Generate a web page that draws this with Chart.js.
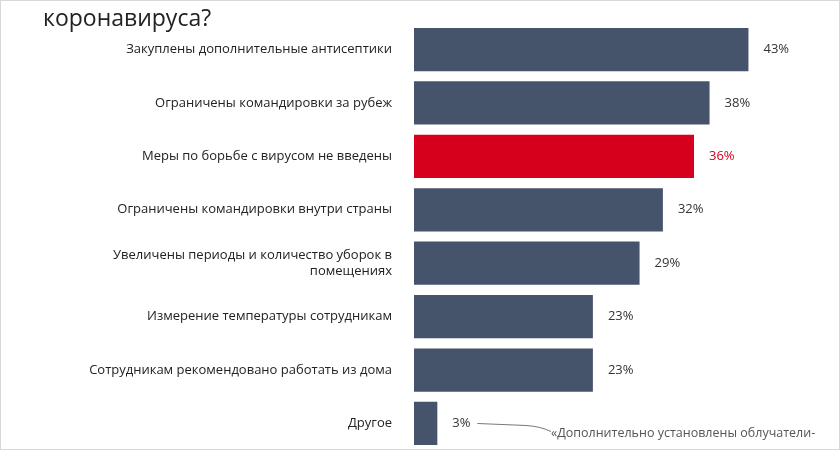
<!DOCTYPE html>
<html><head><meta charset="utf-8">
<script src="https://cdn.jsdelivr.net/npm/chart.js"></script>
<style>
html,body{margin:0;padding:0;background:#fff;overflow:hidden}
#wrap{position:relative;width:840px;height:450px;overflow:hidden;box-sizing:border-box;border:1px solid #d8d8d8}
#c{position:absolute;left:0;top:0}
</style></head><body>
<div id="wrap"><canvas id="c" width="840" height="471"></canvas></div>
<script>
const categories = [
  "Закуплены дополнительные антисептики",
  "Ограничены командировки за рубеж",
  "Меры по борьбе с вирусом не введены",
  "Ограничены командировки внутри страны",
  ["Увеличены периоды и количество уборок в", "помещениях"],
  "Измерение температуры сотрудникам",
  "Сотрудникам рекомендовано работать из дома",
  "Другое"
];
const values = [43, 38, 36, 32, 29, 23, 23, 3];
const highlightIndex = 2;
const titleText = "коронавируса?";
const noteText = "«Дополнительно установлены облучатели-";

const FONT = "'Open Sans', 'Noto Sans', sans-serif";
const barColor = "#45536b", red = "#d6001c";

const extras = {
  id: 'extras',
  afterDatasetsDraw(chart) {
    const ctx = chart.ctx, meta = chart.getDatasetMeta(0);
    ctx.save();
    ctx.font = "13px " + FONT;
    ctx.textBaseline = "middle";
    meta.data.forEach((b, i) => {
      ctx.fillStyle = i === highlightIndex ? red : "#333";
      ctx.textAlign = "left";
      ctx.fillText(values[i] + "%", b.x + 15, b.y);
    });
    ctx.fillStyle = "#222";
    ctx.font = "23px " + FONT;
    ctx.textBaseline = "alphabetic";
    ctx.fillText(titleText, 42, 25);
    const last = meta.data[values.length - 1];
    const lx = last.x + 40, ly = last.y;
    ctx.strokeStyle = "#555"; ctx.lineWidth = 0.8;
    ctx.beginPath(); ctx.moveTo(lx, ly); ctx.lineTo(525, ly + 2);
    ctx.quadraticCurveTo(540, ly + 3, 550, ly + 8); ctx.stroke();
    ctx.fillStyle = "#555"; ctx.font = "12.5px " + FONT;
    ctx.textBaseline = "middle";
    ctx.fillText(noteText, 550, ly + 10);
    ctx.restore();
  }
};

new Chart(document.getElementById('c'), {
  type: 'bar',
  data: { labels: categories, datasets: [{
    data: values,
    backgroundColor: values.map((v, i) => i === highlightIndex ? red : barColor),
    barPercentage: 0.81, categoryPercentage: 1
  }]},
  options: {
    indexAxis: 'y', responsive: false, animation: false,
    layout: { padding: { top: 2, bottom: 0, right: 7, left: 0 } },
    plugins: { legend: { display: false }, tooltip: { enabled: false } },
    scales: {
      x: { display: false, min: 0, max: 54 },
      y: {
        grid: { display: false, drawBorder: false }, border: { display: false },
        ticks: { color: "#222", font: { size: 13, family: FONT }, padding: 14, autoSkip: false },
        afterFit(s) { s.width = 413; }
      }
    }
  },
  plugins: [extras]
});
</script></body></html>
